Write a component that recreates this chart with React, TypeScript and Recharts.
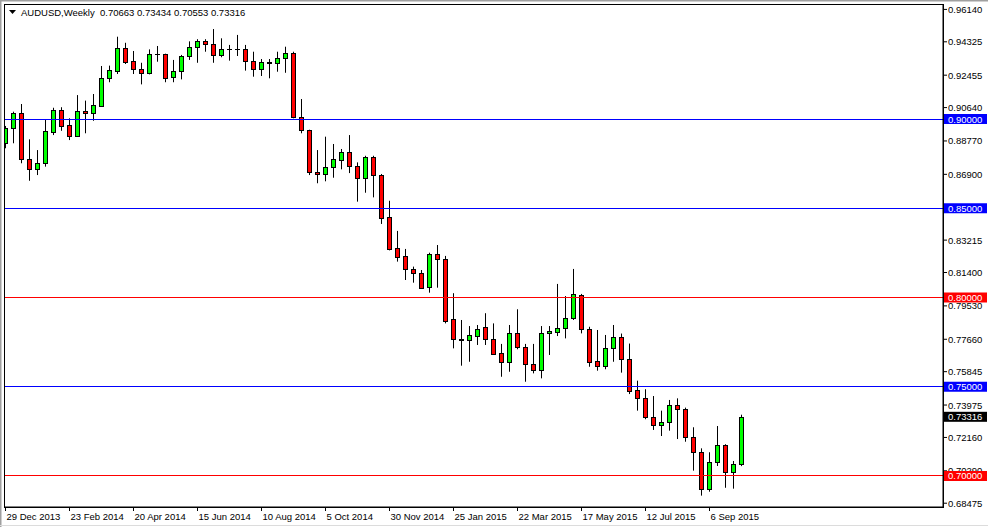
import { ComposedChart, Bar, XAxis, YAxis, ReferenceLine } from "recharts";

const FONT = '"Liberation Sans", Arial, sans-serif';

// weekly AUDUSD candles, first bar = week of 29 Dec 2013
const opens = [
  0.8864, 0.8948, 0.9032, 0.8774, 0.8718, 0.8752, 0.8929, 0.905, 0.8966, 0.8905,
  0.9045, 0.9032, 0.9075, 0.9228, 0.9271, 0.9396, 0.9325, 0.9278, 0.9256, 0.9364,
  0.9364, 0.9234, 0.9269, 0.9353, 0.9402, 0.9437, 0.942, 0.9359, 0.939, 0.939,
  0.939, 0.9325, 0.9278, 0.9318, 0.9315, 0.934, 0.9371, 0.901, 0.8938, 0.8701,
  0.8692, 0.8729, 0.8769, 0.8813, 0.8737, 0.8668, 0.8787, 0.8686, 0.8449, 0.8276,
  0.8233, 0.8158, 0.8136, 0.8057, 0.8242, 0.8214, 0.7878, 0.7766, 0.7764, 0.7786,
  0.7833, 0.7766, 0.7687, 0.764, 0.7803, 0.7724, 0.7626, 0.7594, 0.7799, 0.7808,
  0.7827, 0.7883, 0.8012, 0.7822, 0.7644, 0.7616, 0.7715, 0.7779, 0.7654, 0.7482,
  0.7435, 0.7332, 0.7286, 0.7301, 0.7396, 0.7374, 0.7217, 0.7136, 0.6926, 0.708,
  0.7172, 0.7024, 0.70663,
];
const highs = [
  0.8961, 0.9041, 0.9084, 0.8886, 0.8826, 0.8998, 0.9063, 0.9066, 0.9004, 0.9134,
  0.9103, 0.914, 0.9297, 0.9299, 0.9461, 0.9427, 0.9381, 0.9315, 0.939, 0.9409,
  0.9366, 0.9331, 0.9359, 0.9435, 0.9447, 0.9447, 0.9504, 0.9452, 0.9415, 0.9471,
  0.9415, 0.9377, 0.9336, 0.9336, 0.9377, 0.9405, 0.9377, 0.9112, 0.894, 0.8826,
  0.8901, 0.886, 0.8832, 0.891, 0.8757, 0.8794, 0.8794, 0.8692, 0.8542, 0.8373,
  0.8272, 0.8173, 0.8154, 0.8251, 0.8294, 0.8233, 0.8024, 0.7874, 0.784, 0.7846,
  0.7912, 0.7855, 0.774, 0.7846, 0.7934, 0.774, 0.774, 0.784, 0.784, 0.8076,
  0.8008, 0.816, 0.802, 0.7836, 0.7818, 0.779, 0.7846, 0.7798, 0.7742, 0.7534,
  0.7486, 0.7448, 0.7366, 0.7426, 0.7435, 0.7383, 0.7273, 0.7155, 0.7133, 0.728,
  0.7178, 0.7084, 0.73434,
];
const lows = [
  0.8836, 0.8864, 0.8752, 0.8654, 0.8686, 0.8733, 0.891, 0.8934, 0.8882, 0.8901,
  0.892, 0.899, 0.907, 0.9206, 0.9252, 0.9308, 0.9252, 0.9194, 0.925, 0.9321,
  0.9206, 0.9206, 0.9222, 0.9331, 0.9315, 0.9377, 0.9315, 0.9346, 0.9327, 0.9353,
  0.9271, 0.9237, 0.9241, 0.9228, 0.9265, 0.9259, 0.9004, 0.892, 0.8686, 0.864,
  0.8651, 0.8671, 0.8718, 0.8697, 0.8537, 0.8587, 0.8561, 0.8412, 0.8264, 0.8201,
  0.8098, 0.8083, 0.8052, 0.8027, 0.8055, 0.7855, 0.7715, 0.7618, 0.764, 0.7734,
  0.7734, 0.7678, 0.7556, 0.7584, 0.771, 0.7528, 0.7575, 0.7547, 0.7678, 0.7784,
  0.7771, 0.7874, 0.7799, 0.7612, 0.759, 0.7598, 0.764, 0.7579, 0.7459, 0.7366,
  0.7318, 0.7258, 0.7224, 0.7254, 0.7207, 0.7192, 0.703, 0.689, 0.6912, 0.7056,
  0.6934, 0.6929, 0.70553,
];
const closes = [
  0.8948, 0.9032, 0.8774, 0.8718, 0.8752, 0.8933, 0.905, 0.8961, 0.8906, 0.9045,
  0.9032, 0.9078, 0.9228, 0.9275, 0.9396, 0.9321, 0.9278, 0.9256, 0.9364, 0.9362,
  0.9231, 0.9269, 0.9353, 0.9402, 0.9437, 0.9418, 0.9359, 0.939, 0.9392, 0.9391,
  0.9325, 0.9278, 0.9318, 0.9315, 0.934, 0.9371, 0.901, 0.8938, 0.8701, 0.8692,
  0.8729, 0.8774, 0.8813, 0.8737, 0.8668, 0.8787, 0.8686, 0.8444, 0.8272, 0.8229,
  0.8158, 0.8136, 0.8055, 0.8242, 0.8214, 0.787, 0.7766, 0.7764, 0.7788, 0.7825,
  0.7766, 0.7684, 0.764, 0.7803, 0.7724, 0.7626, 0.7594, 0.7799, 0.7812, 0.7827,
  0.7883, 0.8018, 0.7822, 0.764, 0.7616, 0.7715, 0.7779, 0.7654, 0.7478, 0.7435,
  0.7332, 0.7286, 0.7301, 0.7396, 0.7374, 0.7217, 0.7136, 0.6926, 0.708, 0.7172,
  0.7024, 0.70663, 0.73316,
];

const dateLabels = [
  "29 Dec 2013", "23 Feb 2014", "20 Apr 2014", "15 Jun 2014", "10 Aug 2014", "5 Oct 2014",
  "30 Nov 2014", "25 Jan 2015", "22 Mar 2015", "17 May 2015", "12 Jul 2015", "6 Sep 2015",
];
const dateTickIdx = [0, 8, 16, 24, 32, 40, 48, 56, 64, 72, 80, 88];

// the 0.85030 scale tick sits fully under the 0.85000 level label, so it is left out
const priceTicks = [
  0.9614, 0.94325, 0.92455, 0.9064, 0.8877, 0.869, 0.83215,
  0.814, 0.7953, 0.7766, 0.75845, 0.73975, 0.7216, 0.7029, 0.68475,
];
const levels = [0.9, 0.85, 0.8, 0.75, 0.7];
const levelColors = ["#0000ff", "#0000ff", "#ff0000", "#0000ff", "#ff0000"];

const data = opens.map((o, i) => ({
  idx: i,
  open: o,
  high: highs[i],
  low: lows[i],
  close: closes[i],
  range: [lows[i], highs[i]],
}));
const last = data[data.length - 1];

const Candle = (props: any) => {
  const { x, y, width, height, payload } = props;
  if (x == null || y == null) return null;
  const { open, close, high, low } = payload;
  const top = Math.min(y, y + height);
  const h = Math.abs(height);
  const cx = Math.round(x + width / 2) + 0.5;
  const py = (p: number) => (high === low ? top : top + ((high - p) / (high - low)) * h);
  const bTop = Math.round(py(Math.max(open, close))) + 0.5;
  const bBot = Math.round(py(Math.min(open, close))) + 0.5;
  const up = close > open;
  return (
    <g>
      <line x1={cx} x2={cx} y1={top} y2={top + h} stroke="#000" strokeWidth={1} />
      {bBot - bTop < 1 ? (
        <line x1={cx - 2.5} x2={cx + 2.5} y1={bTop} y2={bTop} stroke="#000" strokeWidth={1} />
      ) : (
        <rect
          x={cx - 2}
          y={bTop}
          width={4}
          height={bBot - bTop}
          fill={up ? "#00ff00" : "#ff0000"}
          stroke="#000"
          strokeWidth={1}
        />
      )}
    </g>
  );
};

const DateTick = (props: any) => {
  const { x, y, payload } = props;
  const k = dateTickIdx.indexOf(payload.value);
  return (
    <text x={x + 1} y={y + 9} fontSize={9.5} fontFamily={FONT} fill="#000" textAnchor="start">
      {k >= 0 ? dateLabels[k] : ""}
    </text>
  );
};

const PriceTick = (props: any) => {
  const { x, y, payload } = props;
  const v = payload.value;
  const k = levels.indexOf(v);
  let bg: string | null = null;
  if (k >= 0) bg = levelColors[k];
  else if (v === last.close && payload.index >= priceTicks.length) bg = "#000";
  return (
    <g>
      {bg && <rect x={x - 4} y={y - 5} width={43} height={10} fill={bg} />}
      <text x={x} y={y + 3.5} fontSize={9.5} fontFamily={FONT} fill={bg ? "#fff" : "#000"}>
        {v.toFixed(5)}
      </text>
    </g>
  );
};

const App = () => {
  const yTicks = [...priceTicks, ...levels, last.close];
  return (
    <div style={{ position: "absolute", left: 0, top: 0, width: 988, height: 527, background: "#fff" }}>
      <svg width={988} height={527} style={{ position: "absolute", left: 0, top: 0 }}>
        <line x1={0} x2={988} y1={0.5} y2={0.5} stroke="#a0a0a0" strokeWidth={2} />
        <line x1={0.5} x2={0.5} y1={0} y2={527} stroke="#a0a0a0" strokeWidth={2} />
        <line x1={0} x2={988} y1={525.5} y2={525.5} stroke="#dcdcdc" strokeWidth={1} />
      </svg>
      <div style={{ position: "absolute", left: 0, top: 0 }}>
        <ComposedChart
          width={988}
          height={527}
          data={data}
          margin={{ top: 4, right: 0, bottom: 0, left: 5 }}
        >
          <XAxis
            dataKey="idx"
            type="number"
            domain={[-0.0625, 117.1875]}
            allowDataOverflow
            ticks={dateTickIdx}
            interval={0}
            height={20}
            tickSize={4}
            tickMargin={0}
            axisLine={{ stroke: "#000" }}
            tickLine={{ stroke: "#000" }}
            tick={<DateTick />}
          />
          <YAxis
            orientation="right"
            width={45}
            domain={[0.68263, 0.96443]}
            allowDataOverflow
            ticks={yTicks}
            interval={0}
            tickSize={4}
            tickMargin={1}
            axisLine={{ stroke: "#000" }}
            tickLine={{ stroke: "#000" }}
            tick={<PriceTick />}
          />
          <Bar
            dataKey="range"
            barSize={5}
            isAnimationActive={false}
            shape={(p: any) => <Candle {...p} />}
          />
          {levels.map((v, i) => (
            <ReferenceLine
              key={v}
              y={v}
              stroke={levelColors[i]}
              strokeWidth={1}
              ifOverflow="hidden"
              shapeRendering="crispEdges"
            />
          ))}
        </ComposedChart>
      </div>
      <div
        style={{
          position: "absolute",
          left: 4,
          top: 4,
          width: 938,
          height: 502,
          border: "1px solid #000",
          pointerEvents: "none",
        }}
      />
      <svg width={300} height={20} style={{ position: "absolute", left: 0, top: 0 }}>
        <polygon points="9,10 16,10 12.5,14" fill="#000" />
        <text x={21} y={16} fontSize={9.5} fontFamily={FONT} fill="#000" xmlSpace="preserve">
          {`AUDUSD,Weekly  ${last.open.toFixed(5)} ${last.high.toFixed(5)} ${last.low.toFixed(5)} ${last.close.toFixed(5)}`}
        </text>
      </svg>
    </div>
  );
};

export default App;
